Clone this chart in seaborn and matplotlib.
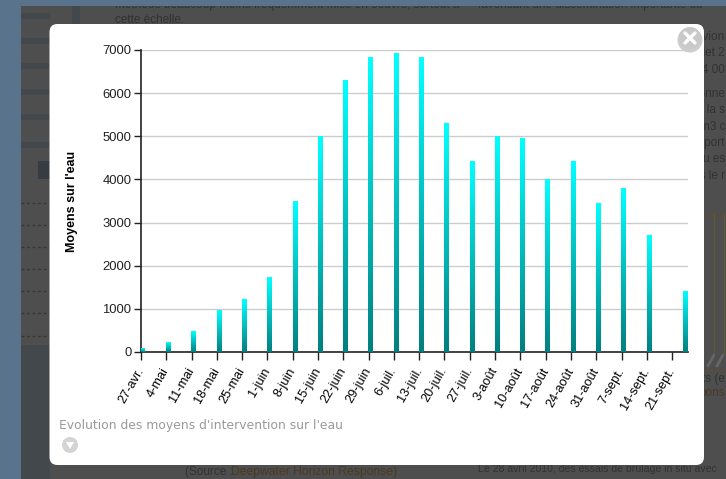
import matplotlib
matplotlib.use("Agg")
import matplotlib.pyplot as plt
import matplotlib.dates as mdates
from matplotlib.patches import Circle, FancyBboxPatch, Rectangle
from matplotlib.colors import LinearSegmentedColormap
import numpy as np
import pandas as pd
import seaborn as sns

# Weekly counts of vessels deployed on the water, 2010 season
report_dates = ["2010-04-27", "2010-05-04", "2010-05-11", "2010-05-18", "2010-05-25",
                "2010-06-01", "2010-06-08", "2010-06-15", "2010-06-22", "2010-06-29",
                "2010-07-06", "2010-07-13", "2010-07-20", "2010-07-27", "2010-08-03",
                "2010-08-10", "2010-08-17", "2010-08-24", "2010-08-31", "2010-09-07",
                "2010-09-14", "2010-09-24"]
moyens = [80, 210, 470, 970, 1220, 1720, 3500, 5000, 6300, 6830, 6920,
          6830, 5300, 4420, 5000, 4950, 4000, 4420, 3450, 3800, 2700, 1400]
tick_dates = ["2010-04-27", "2010-05-04", "2010-05-11", "2010-05-18", "2010-05-25",
              "2010-06-01", "2010-06-08", "2010-06-15", "2010-06-22", "2010-06-29",
              "2010-07-06", "2010-07-13", "2010-07-20", "2010-07-27", "2010-08-03",
              "2010-08-10", "2010-08-17", "2010-08-24", "2010-08-31", "2010-09-07",
              "2010-09-14", "2010-09-21"]
tick_labels = ["27-avr.", "4-mai", "11-mai", "18-mai", "25-mai", "1-juin", "8-juin",
               "15-juin", "22-juin", "29-juin", "6-juil.", "13-juil.", "20-juil.",
               "27-juil.", "3-août", "10-août", "17-août", "24-août", "31-août",
               "7-sept.", "14-sept.", "21-sept."]

W, H = 726, 479
sns.set_theme(style="white")
plt.rcParams["font.family"] = ["Liberation Sans", "DejaVu Sans"]

fig = plt.figure(figsize=(W / 100, H / 100), dpi=100, facecolor="#4e4e4e")

# Full-figure pixel layer: dimmed page behind, white dialog above it
bg = fig.add_axes([0, 0, 1, 1], zorder=0)
bg.set_xlim(0, W)
bg.set_ylim(H, 0)
bg.axis("off")

BLUE, SLATE, INK, BROWN = "#5a738c", "#43484c", "#323232", "#4a3a22"
bg.add_patch(Rectangle((21, 345), 29, H - 345, color=SLATE, lw=0, zorder=1))
for y in (16, 41, 66, 92, 117, 145):
    bg.add_patch(Rectangle((21, y - 3), 29, 6, color=SLATE, lw=0, zorder=1))
bg.add_patch(Rectangle((72, 6), 8, 18, color=SLATE, lw=0, zorder=1))
bg.add_patch(Rectangle((38, 161), 12, 18, color="#363c42", lw=0, zorder=1))
for y in (203, 225, 247, 269, 291, 313, 336):
    bg.plot([21, 50], [y, y], color="#363636", lw=1, ls=(0, (2, 2)), zorder=1)

# Page content that shows around the dialog
page = dict(color=INK, fontsize=8.5, zorder=2)
bg.text(115, 5, "méthode beaucoup moins fréquemment mise en oeuvre, surtout à",
        va="center", **page)
bg.text(478, 5, "favorisant une dissémination importante du", va="center", **page)
bg.text(115, 20, "cette échelle.", va="center", **page)
bg.text(185, 472, "(Source :", va="center", **page)
bg.text(231, 472, "Deepwater Horizon Response)", va="center", color=BROWN, fontsize=8.7, zorder=2)
bg.text(478, 469, "Le 28 avril 2010, des essais de brûlage in situ avec", va="center",
        color=INK, fontsize=7.6, zorder=2)
side_lines = [(37, "avion"), (53, "juillet 2"), (70, "à 4 00"), (94, "donne"),
              (110, "dans la s"), (127, "m3 c"), (143, "transport"), (159, "eau es"),
              (176, "dans le r"), (379, "ts (e")]
for y, word in side_lines:
    bg.text(725, y, word, ha="right", va="center", **page)
bg.text(725, 393, "pons", ha="right", va="center", color=BROWN, fontsize=8.5, zorder=2)
bg.plot([704, 726], [214, 214], color="#5e4a32", lw=1, zorder=1)
bg.plot([704, 726], [371, 371], color="#5e4a32", lw=1, zorder=1)
for x in (714, 724):
    bg.plot([x, x], [214, 354], color="#5c5a38", lw=1, zorder=1)
for x in (708, 717):
    bg.plot([x, x + 6], [366, 355], color="#666666", lw=2, zorder=1)

bg.add_patch(Rectangle((0, 0), 21, H, color=BLUE, lw=0, zorder=3))
bg.add_patch(Rectangle((0, 0), W, 6, color=BLUE, lw=0, zorder=3))
bg.add_patch(FancyBboxPatch((53.5, 28), 646.5, 433, boxstyle="round,pad=4,rounding_size=8",
                            fc="white", ec="none", zorder=4))

# Chart axes
left, right, top, bottom = 141, 688, 50, 352
ax = fig.add_axes([left / W, 1 - bottom / H, (right - left) / W, (bottom - top) / H],
                  zorder=1)
ax.patch.set_alpha(0)

start = mdates.date2num(pd.Timestamp("2010-04-27"))
df = pd.DataFrame({"jour": mdates.date2num(pd.to_datetime(report_dates)) + 0.5,
                   "moyens": moyens})
sns.barplot(data=df, x="jour", y="moyens", native_scale=True, width=0.16,
            errorbar=None, color="#00cccc", ax=ax, zorder=3)

# Each bar fades from cyan at its top to teal at its foot
fade = LinearSegmentedColormap.from_list("fade", ["#00ffff", "#008080"])
ramp = np.linspace(0, 1, 64).reshape(-1, 1)
for bar in ax.patches:
    x0, x1 = bar.get_x(), bar.get_x() + bar.get_width()
    ax.imshow(ramp, cmap=fade, aspect="auto", zorder=3, interpolation="bilinear",
              extent=(x0, x1, 0, bar.get_height()))
    bar.set_visible(False)
ax.set_xlim(start, start + 151.4)
ax.set_ylim(0, 7000)

ax.set_yticks(range(0, 7001, 1000))
ax.set_xticks(mdates.date2num(pd.to_datetime(tick_dates)))
ax.set_xticklabels(tick_labels, rotation=60, ha="right", va="center",
                   rotation_mode="anchor", fontsize=9.2, color="black")
ax.tick_params(axis="y", labelsize=9.4, length=5, width=1, color="#222222",
               labelcolor="#222222", pad=2, left=True)
ax.tick_params(axis="x", length=6, width=1, color="#222222", pad=6, bottom=True)
ax.grid(axis="y", color="#cccccc", lw=1, zorder=1)
ax.set_axisbelow(True)
ax.set_xlabel("")
ax.set_ylabel("Moyens sur l'eau", fontsize=9, fontweight="bold", color="black")
ax.yaxis.set_label_coords((78 - left) / (right - left), 0.5)
for side in ("top", "right"):
    ax.spines[side].set_visible(False)
for side in ("left", "bottom"):
    ax.spines[side].set_color("#222222")
    ax.spines[side].set_linewidth(1.2)

# Caption and dialog controls
bg.text(59, 426, "Evolution des moyens d'intervention sur l'eau", color="#9a9a9a",
        fontsize=8.95, family="DejaVu Sans", va="center", ha="left", zorder=5)
bg.add_patch(Circle((70, 445), 8, fc="#d4d4d4", ec="none", zorder=5))
bg.fill([66, 74, 70], [442, 442, 449], color="white", lw=0, zorder=6)
bg.add_patch(Circle((690, 40), 12.5, fc="#707070", ec="none", alpha=0.35, zorder=5))
bg.add_patch(Circle((690, 38), 11, fc="#c9c9c9", ec="none", zorder=6))
bg.plot([685, 695], [33, 43], color="white", lw=2.4, zorder=7)
bg.plot([685, 695], [43, 33], color="white", lw=2.4, zorder=7)
bg.set_xlim(0, W)
bg.set_ylim(H, 0)

fig.savefig("out.png", dpi=100, facecolor=fig.get_facecolor())
